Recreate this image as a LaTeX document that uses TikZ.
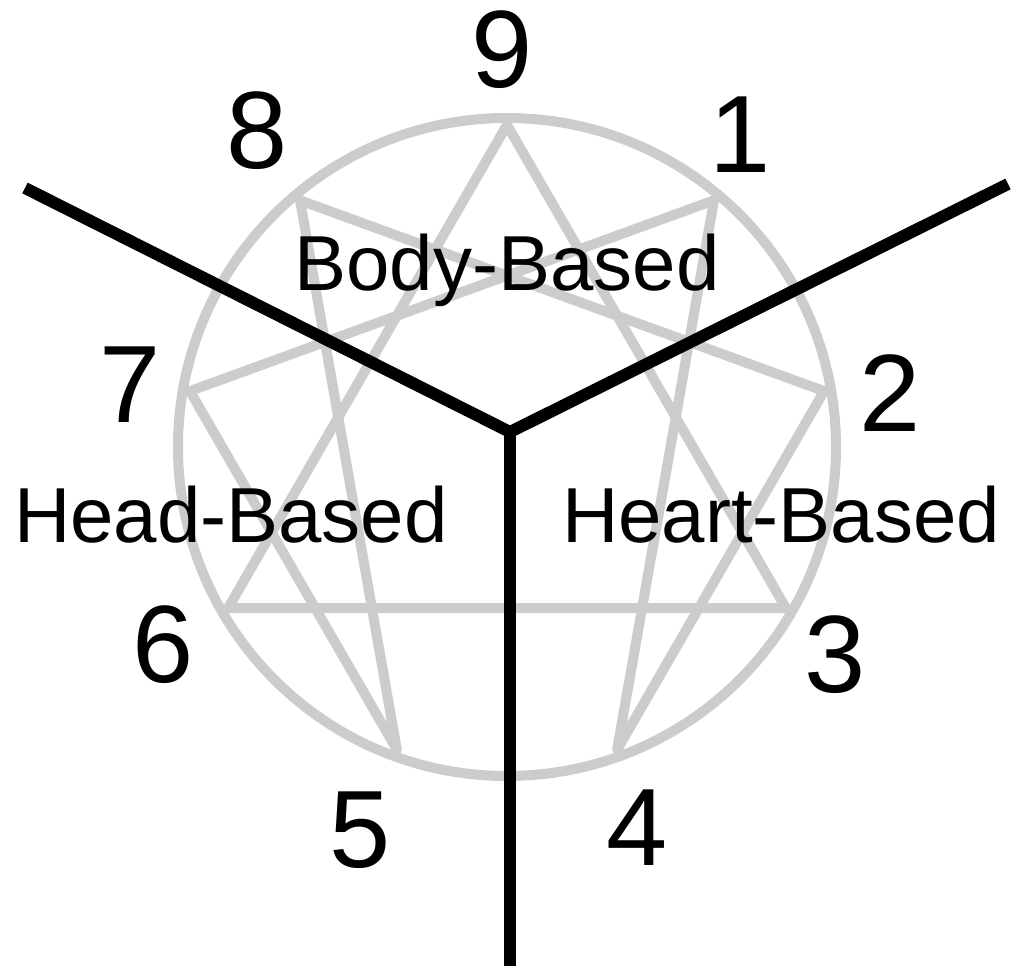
\documentclass[tikz,border=0pt]{standalone}
\usepackage{fontspec}
\setmainfont{Liberation Sans}
\usetikzlibrary{calc}
\begin{document}
\begin{tikzpicture}[x=1pt,y=-1pt,
  gline/.style={draw=enngray,line width=10pt,line join=round},
  bline/.style={draw=black,line width=12pt,line join=miter},
  digit/.style={inner sep=0pt,font=\fontsize{110}{110}\selectfont},
  center label/.style={inner sep=0pt,anchor=base,font=\fontsize{78}{78}\selectfont}]
\definecolor{enngray}{RGB}{204,204,204}
\useasboundingbox (0,0) rectangle (1013,966);
% enneagram
\coordinate (c) at (507,447);
\draw[gline] (c) circle[radius=329];
\foreach \n/\a in {9/90,1/50,2/10,3/-30,4/-70,5/-110,6/-150,7/170,8/130}
  \coordinate (p\n) at ($(c)+({322*cos(\a)},{-322*sin(\a)})$);
\draw[gline] (p9) -- (p3) -- (p6) -- cycle;
\draw[gline] (p1) -- (p4) -- (p2) -- (p8) -- (p5) -- (p7) -- cycle;
% dividers
\coordinate (j) at (510,432);
\coordinate (eL) at (25,188);
\coordinate (eR) at (1008,184);
\coordinate (eB) at (510,966);
\draw[bline] (eL) -- (j) -- (eR);
\draw[bline] (j) -- (eB);
% digits
\node[digit] (n9) at (502,50) {9};
\node[digit] (n1) at (740,135) {1};
\node[digit] (n2) at (890,393) {2};
\node[digit] (n3) at (835,655) {3};
\node[digit] (n4) at (637,828) {4};
\node[digit] (n5) at (360,830) {5};
\node[digit] (n6) at (163,645) {6};
\node[digit] (n7) at (130,385) {7};
\node[digit] (n8) at (257,131) {8};
% centre labels
\node[center label] (body) at (507,290) {Body-Based};
\node[center label] (head) at (231,542) {Head-Based};
\node[center label] (heart) at (781,542) {Heart-Based};
\end{tikzpicture}
\end{document}
